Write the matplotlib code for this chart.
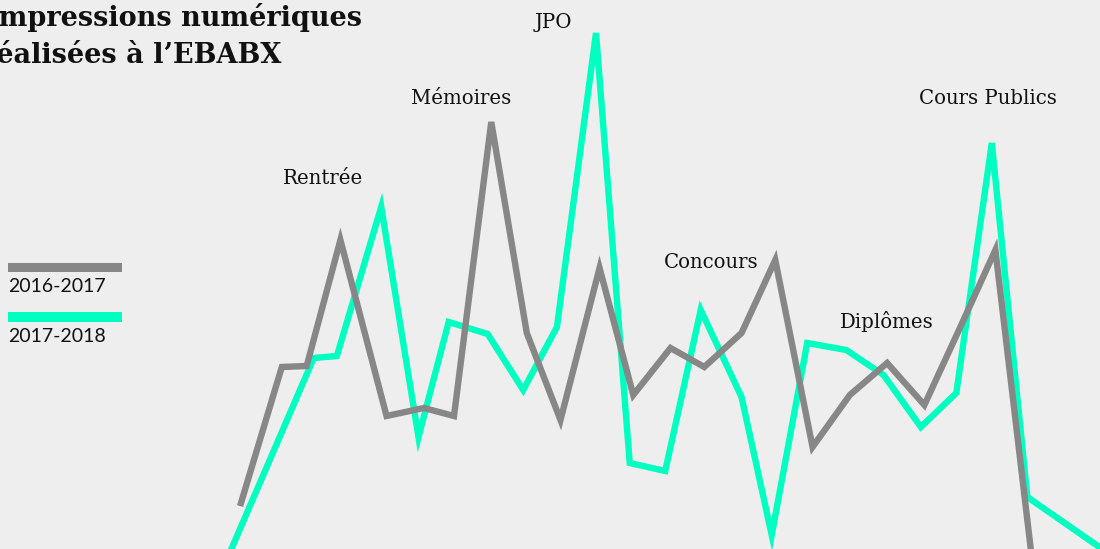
import matplotlib
matplotlib.use("Agg")
import matplotlib.pyplot as plt

# semaines (x) et volume d'impressions (centaines de pages)
semaines_1617 = [0, 2.3, 3.7, 5.6, 8.2, 10.3, 12.0, 14.1, 16.1, 18.0, 20.2, 22.1,
                 24.2, 26.1, 28.2, 30.1, 32.2, 34.3, 36.4, 38.5, 40.5, 42.5, 44.6]
impr_1617 = [77, 213, 214, 340, 164, 172, 164, 458, 247, 160, 312, 185,
             232, 213, 247, 320, 133, 185, 217, 175, 252, 330, 15]

semaines_1718 = [-1.1, 4.1, 5.4, 7.9, 10.0, 11.7, 13.9, 15.9, 17.8, 20.0, 21.9,
                 23.9, 25.9, 28.2, 29.9, 31.9, 34.1, 36.2, 38.3, 40.3, 42.3, 44.3, 49.0]
impr_1718 = [8, 222, 224, 373, 143, 258, 246, 190, 253, 547, 117,
             109, 270, 183, 45, 237, 230, 205, 153, 187, 437, 83, 25]

# evenements annotes : (texte, semaine, niveau)
evenements = [("Rentrée", 4.6, 402),
              ("Mémoires", 12.4, 481),
              ("JPO", 17.6, 558),
              ("Concours", 26.5, 317),
              ("Diplômes", 36.4, 258),
              ("Cours Publics", 42.1, 481)]

titre = ["Impressions numériques", "réalisées à l’EBABX"]
legende = ["2016-2017", "2017-2018"]

bg = "#eeeeee"
gris = "#878787"
aqua = "#00ffc0"

W, H = 1100, 549
fig = plt.figure(figsize=(11, 5.49), dpi=100, facecolor=bg)
ax = fig.add_axes([0, 0, 1, 1])
ax.set_facecolor(bg)

x0 = 241 / 17.75
ax.set_xlim(-x0, W / 17.75 - x0)
ax.set_ylim(31, 580)
ax.axis("off")

ax.plot(semaines_1718, impr_1718, color=aqua, lw=4.6, solid_joinstyle="miter")
ax.plot(semaines_1617, impr_1617, color=gris, lw=4.6, solid_joinstyle="miter")

for txt, sx, sy in evenements:
    ax.text(sx, sy, txt, ha="center", va="center", family="DejaVu Serif",
            fontsize=14.2, color="#111111")

# titre : premiere lettre de chaque ligne hors cadre, comme l'original
tstyle = dict(family="DejaVu Serif", fontweight="bold", fontsize=19.5, color="#111111")
for ligne, base, dx in zip(titre, [26, 63], [-14, -18]):
    fig.text(dx / W, 1 - base / H, ligne, ha="left", va="baseline", **tstyle)

# legende
for lab, col, yy in zip(legende, [gris, aqua], [267.5, 317]):
    fig.patches.append(plt.Rectangle((8 / W, 1 - (yy + 5) / H), 114 / W, 10 / H,
                                     transform=fig.transFigure, color=col, lw=0))
    fig.text(8 / W, 1 - (yy + 24.5) / H, lab, ha="left", va="baseline",
             family="Lato", fontsize=14, color="#111111")

fig.savefig("out.png", dpi=100, facecolor=bg)
